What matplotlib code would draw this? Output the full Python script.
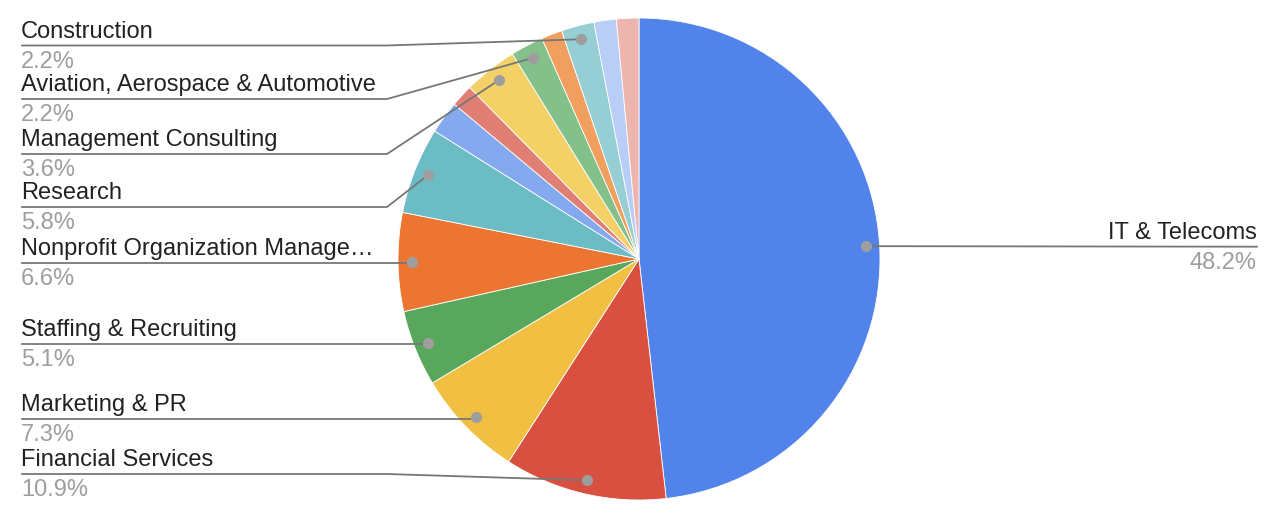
import numpy as np
import matplotlib.pyplot as plt

# Slice data (clockwise from 12 o'clock)
industries = ['IT & Telecoms', 'Financial Services', 'Marketing & PR',
              'Staffing & Recruiting', 'Nonprofit Organization Manage\u2026',
              'Research', None, None, 'Management Consulting',
              'Aviation, Aerospace & Automotive', None, 'Construction',
              None, None]
shares = [48.2, 10.9, 7.3, 5.1, 6.6, 5.8, 2.2, 1.5, 3.6, 2.2, 1.4, 2.2, 1.5, 1.5]
colors = ['#5283ea', '#d95040', '#f1c042', '#59a75c', '#ec7631', '#6bbcc4',
          '#84a9ef', '#e17f75', '#f4d166', '#84c08a', '#f09f5e', '#95cfd5',
          '#b8cef7', '#ecb5ae']

# Label layout: y of leader line in pixels (from top)
label_line_y = {
    'IT & Telecoms': 246.7,
    'Financial Services': 474,
    'Marketing & PR': 419,
    'Staffing & Recruiting': 344.3,
    'Nonprofit Organization Manage\u2026': 262.7,
    'Research': 207,
    'Management Consulting': 154,
    'Aviation, Aerospace & Automotive': 99,
    'Construction': 45.5,
}

W, H = 1270, 518
fig = plt.figure(figsize=(W / 100, H / 100), dpi=100)
ax = fig.add_axes([0, 0, 1, 1])

cx, cy, r = 639, H - 259, 241
wedges, _ = ax.pie(shares, colors=colors, startangle=90, counterclock=False,
                   center=(cx, cy), radius=r,
                   wedgeprops=dict(edgecolor='white', linewidth=0.6))

# pie() resets the limits, so set them afterwards
ax.set_xlim(0, W)
ax.set_ylim(0, H)
ax.set_aspect('equal')
ax.axis('off')

font = 'Liberation Sans'
fs = 17
line_color = '#777777'
dot_color = '#9e9e9e'

for w, name, val in zip(wedges, industries, shares):
    if name is None:
        continue
    mid = np.deg2rad((w.theta1 + w.theta2) / 2)
    px = cx + 0.943 * r * np.cos(mid)
    py = cy + 0.943 * r * np.sin(mid)
    ly = H - label_line_y[name]
    if px > cx:
        # right side label
        ax.plot([px, 1257], [py, ly], color=line_color, lw=1.3, zorder=3)
        ax.text(1257, ly + 8, name, ha='right', va='baseline', fontsize=fs,
                family=font, color='#222222')
        ax.text(1257, ly - 22, f'{val}%', ha='right', va='baseline', fontsize=fs,
                family=font, color='#9e9e9e')
    else:
        if abs(py - ly) < 3:
            xs = [22, px]
            ys = [ly, ly]
        else:
            xs = [22, 387, px]
            ys = [ly, ly, py]
        ax.plot(xs, ys, color=line_color, lw=1.3, zorder=3)
        ax.text(21, ly + 8, name, ha='left', va='baseline', fontsize=fs,
                family=font, color='#222222')
        ax.text(21, ly - 22, f'{val}%', ha='left', va='baseline', fontsize=fs,
                family=font, color='#9e9e9e')
    ax.plot(px, py, 'o', color=dot_color, ms=7, zorder=4)

fig.savefig('out.png', dpi=100)
